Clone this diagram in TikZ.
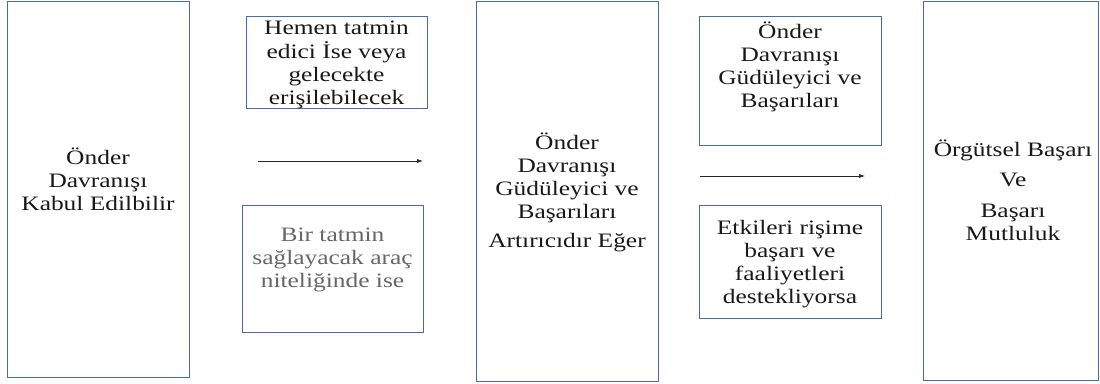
\documentclass[tikz,border=0pt]{standalone}
\usepackage{fontspec}
\setmainfont{Liberation Serif}
\usetikzlibrary{arrows.meta}

\definecolor{boxblue}{RGB}{72,106,176}
\definecolor{txtgray}{RGB}{25,25,25}
\newcommand{\widetxt}[1]{\scalebox{1.24}[1]{\begin{tabular}{@{}c@{}}#1\end{tabular}}}
\tikzset{
  box/.style={draw=boxblue,line width=1pt,inner sep=0pt},
  txt/.style={text=txtgray,inner sep=0pt,font=\fontsize{20.5}{23}\selectfont},
  link/.style={-{Latex[length=6pt,width=4pt]},draw=black!85,line width=0.6pt}
}

\begin{document}
\begin{tikzpicture}[x=1pt,y=1pt]
\useasboundingbox (0,0) rectangle (1100,383);
\node[box,minimum width=182pt,minimum height=375pt] (b1) at (98,193.5) {};
\node[box,minimum width=181pt,minimum height=92pt] (b2) at (336.5,320) {};
\node[box,minimum width=181pt,minimum height=126pt] (b3) at (332.5,114) {};
\node[box,minimum width=182pt,minimum height=379pt] (b4) at (567,191.5) {};
\node[box,minimum width=182pt,minimum height=129pt] (b5) at (790,301.5) {};
\node[box,minimum width=182pt,minimum height=112pt] (b6) at (790,121) {};
\node[box,minimum width=175pt,minimum height=378pt] (b7) at (1010.5,192) {};

\node[txt] (t1) at (98,200) {\widetxt{Önder\\Davranışı\\Kabul Edilbilir}};
\node[txt] (t2) at (336.5,318) {\widetxt{Hemen tatmin\\edici İse veya\\gelecekte\\erişilebilecek}};
\node[txt,text=black!60] (t3) at (332.5,123) {\widetxt{Bir tatmin\\sağlayacak araç\\niteliğinde ise}};
\node[txt] (t4) at (567,189) {\widetxt{Önder\\Davranışı\\Güdüleyici ve\\Başarıları\\[6pt]Artırıcıdır Eğer}};
\node[txt] (t5) at (790,315) {\widetxt{Önder\\Davranışı\\Güdüleyici ve\\Başarıları}};
\node[txt] (t6) at (790,119) {\widetxt{Etkileri rişime\\başarı ve\\faaliyetleri\\destekliyorsa}};
\node[txt] (t7) at (1013,189) {\widetxt{Örgütsel Başarı\\[7pt]Ve\\[8pt]Başarı\\Mutluluk}};

\coordinate (a1s) at (258,222);
\coordinate (a1e) at (423,222);
\coordinate (a2s) at (700,207);
\coordinate (a2e) at (865,207);
\draw[link] (a1s) -- (a1e);
\draw[link] (a2s) -- (a2e);
\end{tikzpicture}
\end{document}
